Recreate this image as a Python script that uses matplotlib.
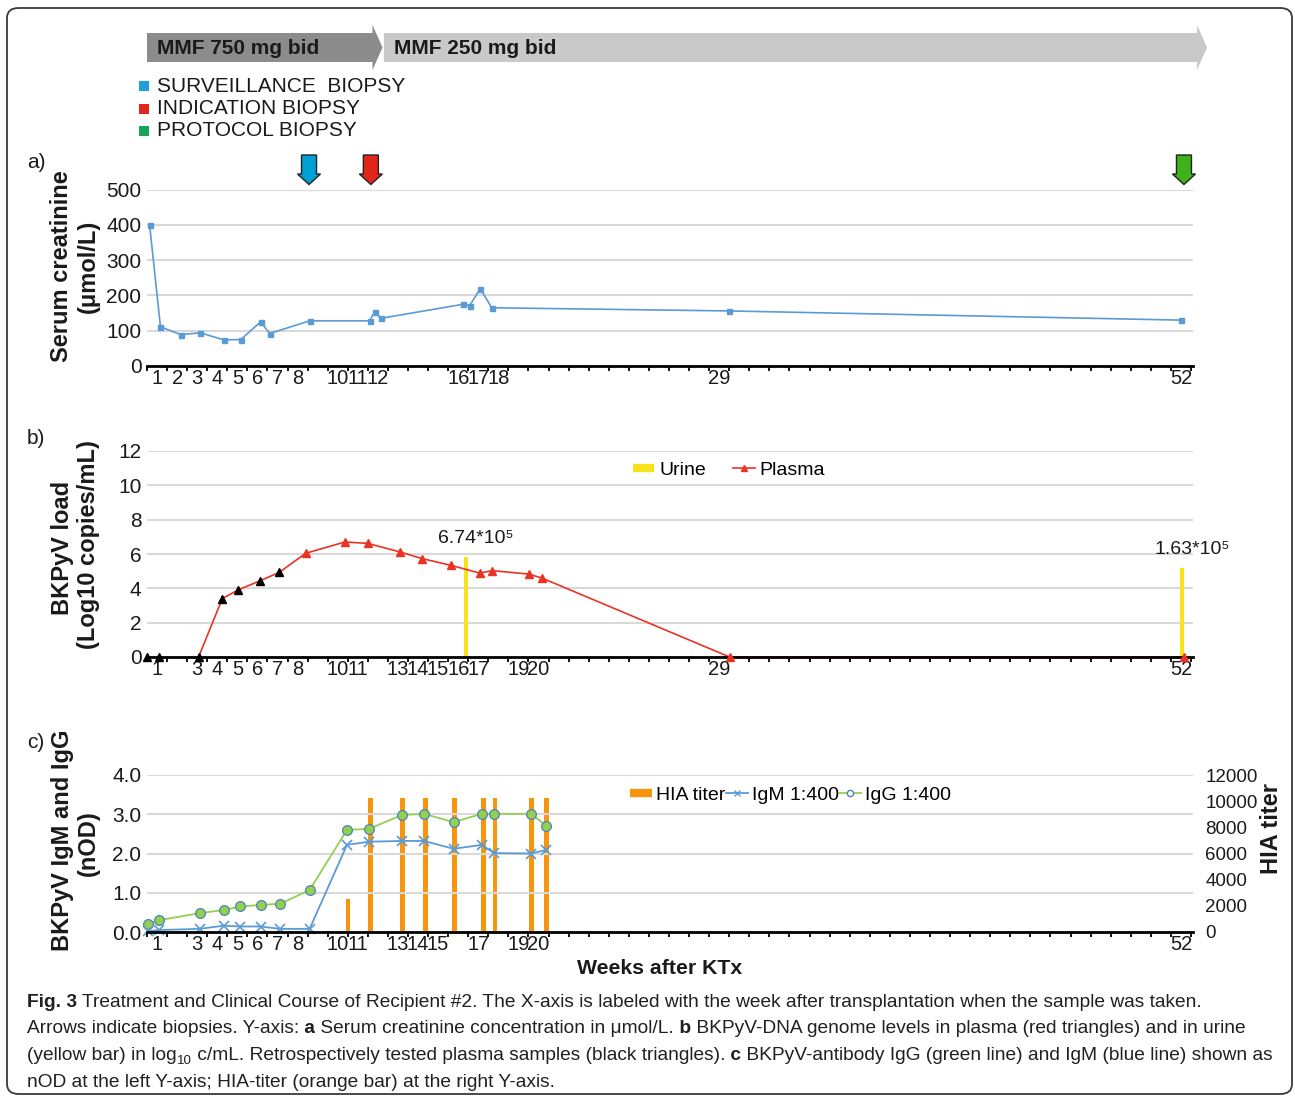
import matplotlib
matplotlib.use("Agg")
import numpy as np
import matplotlib.pyplot as plt
from matplotlib.lines import Line2D
from matplotlib.patches import Polygon, FancyBboxPatch, Rectangle
from matplotlib import font_manager

plt.rcParams['font.family'] = ['Liberation Sans', 'DejaVu Sans']

W, H = 1295, 1098

# ---- data (x in weeks after transplantation) ----
creat_weeks = [0.13, 0.67, 1.68, 2.66, 3.82, 4.67, 5.66, 6.11, 8.1, 11.09, 11.34, 11.64,
               15.76, 16.07, 16.6, 17.17, 28.97, 51.48]
creat_vals = [400, 111, 89, 94, 74, 75, 125, 92, 128, 128, 154, 135, 175, 171, 219, 165, 156, 130]

plasma_weeks = [0, 0.6, 2.57, 3.75, 4.53, 5.61, 6.59, 7.9, 9.86, 10.99, 12.6, 13.71, 15.14,
                16.57, 17.2, 19.01, 19.67, 29.02, 51.65]
plasma_vals = [0, 0, 0, 3.4, 3.9, 4.43, 4.93, 6.04, 6.7, 6.62, 6.12, 5.73, 5.34,
               4.89, 5.03, 4.83, 4.6, 0, 0]
plasma_retro = [True] * 7 + [False] * 12

urine_weeks = [15.91, 51.56]
urine_vals = [5.83, 5.21]
urine_labels = ["6.74*10⁵", "1.63*10⁵"]

ab_weeks = [0.05, 0.6, 2.62, 3.82, 4.65, 5.66, 6.64, 8.1, 9.96, 11.06, 12.7, 13.79, 15.27,
            16.68, 17.28, 19.14, 19.87]
igg_vals = [0.21, 0.30, 0.48, 0.56, 0.65, 0.69, 0.72, 1.07, 2.60, 2.63, 2.98, 3.01, 2.80,
            3.01, 3.01, 3.01, 2.71]
igm_vals = [0.02, 0.05, 0.08, 0.16, 0.14, 0.14, 0.08, 0.08, 2.22, 2.30, 2.32, 2.32, 2.12,
            2.22, 2.01, 2.00, 2.09]

hia_weeks = [10.01, 11.14, 12.73, 13.86, 15.32, 16.75, 17.33, 19.17, 19.89]
hia_vals = [2560, 10240, 10240, 10240, 10240, 10240, 10240, 10240, 10240]

labels_a = [1, 2, 3, 4, 5, 6, 7, 8, 10, 11, 12, 16, 17, 18, 29, 52]
labels_b = [1, 3, 4, 5, 6, 7, 8, 10, 11, 13, 14, 15, 16, 17, 19, 20, 29, 52]
labels_c = [1, 3, 4, 5, 6, 7, 8, 10, 11, 13, 14, 15, 17, 19, 20, 52]

biopsy_weeks = [8.07, 11.15, 51.65]
biopsy_colors = ["#00a0d2", "#e2261b", "#3db21b"]
biopsy_names = ["SURVEILLANCE  BIOPSY", "INDICATION BIOPSY", "PROTOCOL BIOPSY"]
legend_sq_colors = ["#1ba1d8", "#e2261b", "#1aa558"]

mmf_names = ["MMF 750 mg bid", "MMF 250 mg bid"]
mmf_start = [0, 11.8]
mmf_end = [11.73, 52.8]
mmf_colors = ["#8c8c8c", "#c9c9c9"]

BLUE = "#5b9bd5"
RED = "#ea3323"
YELLOW = "#f7e21b"
GREEN = "#92d050"
ORANGE = "#f7960e"
GRID = "#d9d9d9"


def box(left, top, right, bottom):
    return [left / W, 1 - bottom / H, (right - left) / W, (bottom - top) / H]


def fy(y):
    return 1 - y / H


fig = plt.figure(figsize=(W / 100, H / 100), dpi=100)

# frame around figure
fig.patches.append(FancyBboxPatch((7 / W, fy(1094)), 1285 / W, 1086 / H,
                                  boxstyle="round,pad=0,rounding_size=0.009",
                                  transform=fig.transFigure, fill=False,
                                  edgecolor="#3a3a3a", linewidth=1.3))


def style(ax, labels, ylim, yticks):
    ax.set_xlim(0, 52.1)
    ax.set_ylim(*ylim)
    ax.set_xticks(np.arange(0, 53))
    ax.set_xticklabels([])
    ax.set_xticks([k - 0.5 for k in labels], minor=True)
    ax.set_xticklabels([str(k) for k in labels], minor=True)
    ax.tick_params(axis='x', which='major', length=3.5, width=1.3, direction='out', color='black')
    ax.tick_params(axis='x', which='minor', length=0, pad=2, labelsize=14.5, labelcolor='#1a1a1a')
    ax.set_yticks(yticks)
    ax.tick_params(axis='y', length=0, pad=4, labelsize=15, labelcolor='#1a1a1a')
    for s in ['top', 'left', 'right']:
        ax.spines[s].set_visible(False)
    ax.spines['bottom'].set_linewidth(2)
    ax.spines['bottom'].set_zorder(5)
    ax.grid(axis='y', color=GRID, linewidth=1.5)
    ax.set_axisbelow(True)


# ---- panel a ----
ax_a = fig.add_axes(box(147, 189.5, 1193, 366))
style(ax_a, labels_a, (0, 500), range(0, 501, 100))
ax_a.plot(creat_weeks, creat_vals, color=BLUE, lw=1.2, marker='s', ms=3.6, clip_on=False)

# ---- panel b ----
ax_b = fig.add_axes(box(147, 451, 1193, 657))
style(ax_b, labels_b, (0, 12), range(0, 13, 2))
ax_b.bar(urine_weeks, urine_vals, width=0.2, color=YELLOW, zorder=3)
for xw, v, lab in zip(urine_weeks, urine_vals, urine_labels):
    ax_b.annotate(lab, (xw, v), xytext=(7, 7), textcoords='offset points',
                  ha='center', va='bottom', fontsize=14, color='#1a1a1a')
ax_b.plot(plasma_weeks[2:], plasma_vals[2:], color=RED, lw=1.2, zorder=3)
for xw, v, retro in zip(plasma_weeks, plasma_vals, plasma_retro):
    ax_b.plot([xw], [v], marker='^', ms=5.6, color='black' if retro else RED,
              linestyle='none', zorder=6, clip_on=False)
ax_b.legend([Line2D([], [], color=YELLOW, lw=6, solid_capstyle='butt'),
             Line2D([], [], color=RED, lw=1.2, marker='^', ms=4)],
            ["Urine", "Plasma"], loc='center left', frameon=False,
            bbox_to_anchor=(633 / W, fy(470)), bbox_transform=fig.transFigure,
            ncol=2, fontsize=14, handlelength=1.1, handletextpad=0.25,
            columnspacing=1.4, borderpad=0, borderaxespad=0)

# ---- panel c ----
ax_c = fig.add_axes(box(147, 775, 1193, 932))
style(ax_c, labels_c, (0, 4), [0, 1, 2, 3, 4])
ax_c.yaxis.set_major_formatter(matplotlib.ticker.FormatStrFormatter('%.1f'))
ax_r = ax_c.twinx()
ax_r.set_ylim(0, 12000)
ax_r.set_yticks(range(0, 12001, 2000))
ax_r.tick_params(axis='y', length=0, pad=9, labelsize=13.5, labelcolor='#1a1a1a')
for s in ax_r.spines.values():
    s.set_visible(False)
ax_r.bar(hia_weeks, hia_vals, width=0.24, color=ORANGE, zorder=1)
ax_c.set_zorder(ax_r.get_zorder() + 1)
ax_c.patch.set_visible(False)
ax_r.grid(False)
ax_c.plot(ab_weeks, igg_vals, color=GREEN, lw=1.3, marker='o', ms=7,
          markerfacecolor=GREEN, markeredgecolor='#4f81bd', markeredgewidth=0.9, clip_on=False, zorder=4)
ax_c.plot(ab_weeks, igm_vals, color=BLUE, lw=1.3, marker='x', ms=7, mew=1.2, clip_on=False, zorder=4)
ax_c.legend([Line2D([], [], color=ORANGE, lw=6, solid_capstyle='butt'),
             Line2D([], [], color=BLUE, lw=1.3, marker='x', ms=5),
             Line2D([], [], color=GREEN, lw=1.3, marker='o', ms=4.5,
                    markerfacecolor='white', markeredgecolor='#4f81bd')],
            ["HIA titer", "IgM 1:400", "IgG 1:400"], loc='center left', frameon=False,
            bbox_to_anchor=(630 / W, fy(795)), bbox_transform=fig.transFigure,
            ncol=3, fontsize=14, handlelength=1.15, handletextpad=0.2,
            columnspacing=0, borderpad=0, borderaxespad=0)

# ---- axis titles ----
ylab = dict(rotation=90, ha='center', va='center', fontsize=17, fontweight='bold', color='#1a1a1a')
fig.text(62 / W, fy(266), "Serum creatinine", **ylab)
fig.text(88 / W, fy(266), "(μmol/L)", **ylab)
fig.text(62 / W, fy(548), "BKPyV load", **ylab)
fig.text(88 / W, fy(545), "(Log10 copies/mL)", **ylab)
fig.text(62 / W, fy(840), "BKPyV IgM and IgG", **ylab)
fig.text(88 / W, fy(843), "(nOD)", **ylab)
fig.text(1271 / W, fy(829), "HIA titer", **ylab)
fig.text(660 / W, fy(968), "Weeks after KTx", ha='center', va='center', fontsize=15.3,
         fontweight='bold', color='#1a1a1a')
for lab, y in zip(["a)", "b)", "c)"], [163, 438, 742]):
    fig.text(27 / W, fy(y), lab, ha='left', va='center', fontsize=15, color='#1a1a1a')

# ---- MMF arrows (top) ----
def wx(ax, w):
    return ax.transData.transform((w, 0))[0]


for name, s, e, c in zip(mmf_names, mmf_start, mmf_end, mmf_colors):
    x0, x1 = wx(ax_a, s), wx(ax_a, e)
    hb = x1 - 10
    pts = [(x0, 33), (hb, 33), (hb, 25), (x1, 47.5), (hb, 70), (hb, 62), (x0, 62)]
    fig.patches.append(Polygon([(x / W, fy(y)) for x, y in pts], closed=True,
                               transform=fig.transFigure, facecolor=c, edgecolor='none'))
    fig.text((x0 + 10) / W, fy(48), name, ha='left', va='center', fontsize=15,
             fontweight='bold', color='#1a1a1a')

# biopsy legend
for i, (name, c) in enumerate(zip(biopsy_names, legend_sq_colors)):
    y = 86 + i * 22.5
    fig.patches.append(Rectangle((139 / W, fy(y + 5)), 10 / W, 10 / H,
                                 transform=fig.transFigure, facecolor=c, edgecolor='none'))
    fig.text(157 / W, fy(y), name, ha='left', va='center', fontsize=15, color='#1a1a1a')

# biopsy arrows
for w, c in zip(biopsy_weeks, biopsy_colors):
    xc = wx(ax_a, w)
    pts = [(xc - 7.5, 155), (xc + 7.5, 155), (xc + 7.5, 174), (xc + 11.5, 174),
           (xc, 184.5), (xc - 11.5, 174), (xc - 7.5, 174)]
    fig.patches.append(Polygon([(x / W, fy(y)) for x, y in pts], closed=True,
                               transform=fig.transFigure, facecolor=c, edgecolor='#222222',
                               linewidth=1.0))

# ---- caption ----
names = {f.name for f in font_manager.fontManager.ttflist}
cap_family = ['Liberation Sans Narrow'] if 'Liberation Sans Narrow' in names else ['Liberation Sans']
renderer = fig.canvas.get_renderer()

caption = [
    [("Fig. 3", 'bold', 0), (" Treatment and Clinical Course of Recipient #2. The X-axis is labeled with the week after transplantation when the sample was taken.", 'normal', 0)],
    [("Arrows indicate biopsies. Y-axis:", 'normal', 0), (" a", 'bold', 0), (" Serum creatinine concentration in μmol/L.", 'normal', 0),
     (" b", 'bold', 0), (" BKPyV-DNA genome levels in plasma (red triangles) and in urine", 'normal', 0)],
    [("(yellow bar) in log", 'normal', 0), ("10", 'normal', 1), (" c/mL. Retrospectively tested plasma samples (black triangles).", 'normal', 0),
     (" c", 'bold', 0), (" BKPyV-antibody IgG (green line) and IgM (blue line) shown as", 'normal', 0)],
    [("nOD at the left Y-axis; HIA-titer (orange bar) at the right Y-axis.", 'normal', 0)],
]


def draw_line(x, y, segs, size, keep=True):
    texts = []
    for txt, wt, sub in segs:
        fs = size * (0.7 if sub else 1)
        t = fig.text(x / W, fy(y + (4 if sub else 0)), txt, fontsize=fs, fontweight=wt,
                     family=cap_family + ['DejaVu Sans'], ha='left', va='baseline', color='#231f20')
        x += t.get_window_extent(renderer).width
        texts.append(t)
    if not keep:
        for t in texts:
            t.remove()
    return x


base = 14
end = draw_line(27, 1007, caption[0], base, keep=False)
cap_size = base * (1212 - 27) / (end - 27)
for segs, y in zip(caption, [1007, 1033, 1060, 1087]):
    draw_line(27, y, segs, cap_size)

fig.savefig("out.png", dpi=100)
